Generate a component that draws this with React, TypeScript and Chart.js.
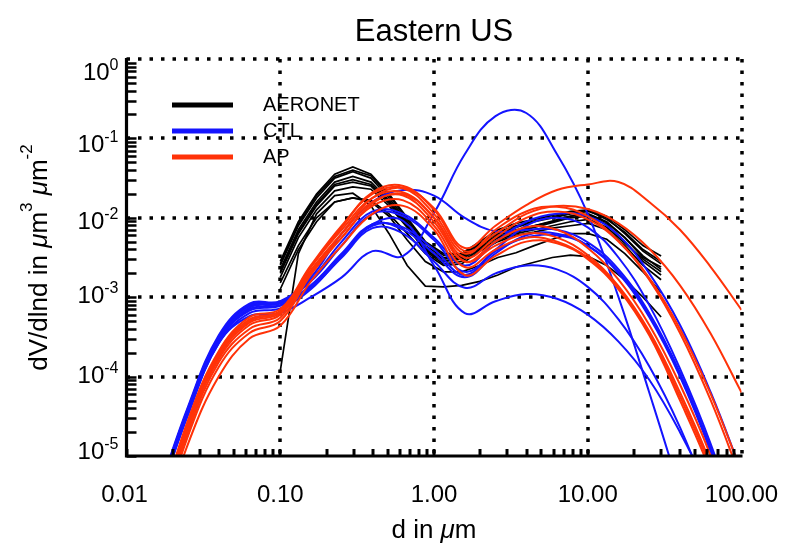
import React, { useEffect, useRef } from 'react';
import { Chart, registerables } from 'chart.js';

Chart.register(...registerables);

// ---------- text ----------
const titleText = 'Eastern US';
const legendLabels = ['AERONET', 'CTL', 'AP'];
const xTickValues = [0.01, 0.1, 1, 10, 100];
const xTickLabels = ['0.01', '0.10', '1.00', '10.00', '100.00'];
const yTickExponents = [0, -1, -2, -3, -4, -5];

// ---------- x values (diameter, µm) ----------
const aeronetD = [0.1, 0.1312, 0.1722, 0.2259, 0.2964, 0.3889, 0.5102, 0.6694, 0.8783, 1.1525, 1.5121, 1.984, 2.6031, 3.4155, 4.4814, 5.8799, 7.7149, 10.1225, 13.2815, 17.4263, 22.8646, 30.0];
const modelD = [0.0158, 0.0251, 0.0398, 0.0631, 0.1, 0.158, 0.251, 0.398, 0.631, 1, 1.585, 2.512, 3.981, 6.31, 10, 15.85, 25.12, 39.81, 63.1, 100];

// ---------- y values, given as log10(dV/dlnd) ----------
const aeronet1 = [-2.55, -2.05, -1.7, -1.45, -1.36, -1.45, -1.7, -2.0, -2.3, -2.45, -2.45, -2.3, -2.15, -2.07, -2.02, -1.97, -1.92, -1.9, -1.98, -2.15, -2.35, -2.48];
const aeronet2 = [-2.6, -2.1, -1.75, -1.5, -1.42, -1.5, -1.75, -2.05, -2.35, -2.5, -2.48, -2.32, -2.2, -2.12, -2.05, -2.0, -1.95, -1.92, -2.0, -2.2, -2.42, -2.58];
const aeronet3 = [-2.65, -2.15, -1.8, -1.55, -1.48, -1.55, -1.78, -2.07, -2.38, -2.52, -2.5, -2.35, -2.22, -2.15, -2.1, -2.05, -1.98, -1.95, -2.05, -2.25, -2.48, -2.65];
const aeronet4 = [-2.7, -2.2, -1.85, -1.6, -1.55, -1.6, -1.82, -2.1, -2.4, -2.55, -2.52, -2.38, -2.25, -2.18, -2.12, -2.06, -2.0, -1.98, -2.08, -2.3, -2.55, -2.72];
const aeronet5 = [-2.75, -2.25, -1.9, -1.66, -1.61, -1.64, -1.85, -2.12, -2.42, -2.58, -2.55, -2.4, -2.28, -2.2, -2.15, -2.1, -2.05, -2.02, -2.12, -2.32, -2.52, -2.68];
const aeronet6 = [-2.82, -2.35, -2.0, -1.8, -1.75, -1.78, -1.95, -2.2, -2.45, -2.6, -2.58, -2.42, -2.3, -2.22, -2.18, -2.13, -2.1, -2.07, -2.15, -2.35, -2.6, -2.78];
const aeronet7 = [-3.93, -2.45, -1.95, -1.72, -1.69, -1.85, -2.2, -2.6, -2.86, -2.87, -2.85, -2.8, -2.72, -2.62, -2.56, -2.5, -2.47, -2.49, -2.6, -2.78, -3.0, -3.25];
const aeronet8 = [-2.9, -2.4, -2.05, -1.8, -1.75, -1.8, -1.98, -2.28, -2.55, -2.68, -2.68, -2.6, -2.5, -2.44, -2.35, -2.27, -2.2, -2.2, -2.27, -2.45, -2.68, -2.94];
const aeronet9 = [-2.58, -2.08, -1.72, -1.48, -1.4, -1.47, -1.72, -2.02, -2.32, -2.47, -2.46, -2.33, -2.18, -2.1, -2.04, -1.99, -1.93, -1.91, -2.02, -2.18, -2.4, -2.55];
const aeronet10 = [-2.68, -2.18, -1.83, -1.58, -1.52, -1.58, -1.8, -2.08, -2.4, -2.55, -2.5, -2.37, -2.24, -2.17, -2.1, -2.04, -1.98, -1.96, -2.06, -2.25, -2.5, -2.62];

const ctl1 = [-5.6, -4.48, -3.58, -3.24, -3.2, -3.0, -2.75, -2.42, -2.48, -1.94, -1.2, -0.72, -0.68, -1.2, -1.95, -3.0, -4.2, -5.45, -6.8, -8.2];
const ctl2 = [-5.5, -4.38, -3.48, -3.08, -3.05, -2.75, -2.2, -1.8, -1.65, -1.72, -2.0, -2.17, -2.15, -2.15, -2.31, -2.65, -3.2, -3.95, -4.9, -6.0];
const ctl3 = [-5.52, -4.4, -3.5, -3.1, -3.06, -2.8, -2.35, -1.95, -1.98, -2.28, -2.68, -2.4, -2.1, -2.0, -2.12, -2.5, -3.1, -3.9, -4.85, -6.0];
const ctl4 = [-5.55, -4.43, -3.53, -3.13, -3.08, -2.85, -2.45, -2.08, -2.15, -2.45, -2.75, -2.45, -2.22, -2.2, -2.35, -2.7, -3.25, -4.0, -4.95, -6.1];
const ctl5 = [-5.57, -4.45, -3.55, -3.17, -3.11, -2.88, -2.5, -2.13, -2.2, -2.55, -2.88, -2.7, -2.6, -2.65, -2.87, -3.28, -3.87, -4.64, -5.6, -6.7];
const ctl6 = [-5.6, -4.48, -3.58, -3.2, -3.14, -2.9, -2.48, -2.08, -2.04, -2.6, -3.2, -3.05, -2.96, -3.02, -3.22, -3.56, -4.04, -4.7, -5.5, -6.5];
const ctl7 = [-5.53, -4.41, -3.51, -3.11, -3.07, -2.78, -2.3, -1.92, -1.95, -2.25, -2.6, -2.3, -2.05, -1.95, -1.98, -2.22, -2.7, -3.35, -4.2, -5.2];
const ctl8 = [-5.58, -4.46, -3.56, -3.15, -3.1, -2.86, -2.46, -2.1, -2.12, -2.4, -2.72, -2.42, -2.25, -2.22, -2.35, -2.68, -3.22, -3.98, -4.92, -6.0];

const ap1 = [-5.8, -4.55, -3.68, -3.25, -3.15, -2.6, -2.1, -1.7, -1.62, -1.88, -2.38, -2.1, -1.84, -1.65, -1.58, -1.55, -1.8, -2.15, -2.62, -3.16];
const ap2 = [-5.85, -4.6, -3.72, -3.3, -3.18, -2.62, -2.12, -1.68, -1.6, -1.9, -2.42, -2.2, -1.95, -1.85, -1.89, -2.07, -2.39, -2.85, -3.46, -4.2];
const ap3 = [-5.9, -4.65, -3.78, -3.35, -3.22, -2.68, -2.2, -1.75, -1.63, -1.95, -2.45, -2.15, -1.92, -1.86, -1.98, -2.29, -2.76, -3.4, -4.22, -5.2];
const ap4 = [-6.0, -4.75, -3.88, -3.45, -3.3, -2.72, -2.25, -1.82, -1.7, -2.0, -2.5, -2.25, -2.0, -1.92, -2.02, -2.3, -2.78, -3.45, -4.3, -5.3];
const ap5 = [-5.82, -4.58, -3.7, -3.28, -3.17, -2.62, -2.15, -1.75, -1.68, -2.0, -2.55, -2.35, -2.2, -2.25, -2.47, -2.86, -3.43, -4.2, -5.1, -6.2];
const ap6 = [-5.92, -4.7, -3.82, -3.4, -3.26, -2.7, -2.25, -1.85, -1.78, -2.1, -2.62, -2.4, -2.25, -2.3, -2.5, -2.88, -3.45, -4.25, -5.15, -6.3];
const ap7 = [-6.05, -4.85, -4.0, -3.52, -3.36, -2.8, -2.35, -1.95, -1.85, -2.15, -2.72, -2.48, -2.3, -2.32, -2.52, -2.9, -3.48, -4.3, -5.2, -6.3];
const ap8 = [-5.88, -4.62, -3.75, -3.32, -3.2, -2.66, -2.2, -1.8, -1.72, -2.05, -2.55, -2.3, -2.12, -2.15, -2.38, -2.78, -3.35, -4.1, -5.0, -6.1];

const aeronetSeries = [aeronet1, aeronet2, aeronet3, aeronet4, aeronet5, aeronet6, aeronet7, aeronet8, aeronet9, aeronet10];
const ctlSeries = [ctl1, ctl2, ctl3, ctl4, ctl5, ctl6, ctl7, ctl8];
const apSeries = [ap1, ap2, ap3, ap4, ap5, ap6, ap7, ap8];

// ---------- style ----------
const BLACK = '#000000';
const BLUE = 'rgb(20,20,255)';
const RED = 'rgb(255,50,8)';
const legendColors = [BLACK, BLUE, RED];
const FONT = '"Liberation Sans", Arial, Helvetica, sans-serif';

const toPoints = (xs: number[], logs: number[]) => xs.map((x, i) => ({ x, y: Math.pow(10, logs[i]) }));

type Run = { t: string; f: string; dy: number };

function runsWidth(ctx: CanvasRenderingContext2D, runs: Run[]) {
  let w = 0;
  for (const r of runs) {
    ctx.font = r.f;
    w += ctx.measureText(r.t).width;
  }
  return w;
}

function drawRuns(ctx: CanvasRenderingContext2D, runs: Run[], x: number, y: number) {
  let cx = x;
  for (const r of runs) {
    ctx.font = r.f;
    ctx.fillText(r.t, cx, y + r.dy);
    cx += ctx.measureText(r.t).width;
  }
}

const idlPlugin = {
  id: 'idlAxes',
  beforeDatasetsDraw(chart: any) {
    const { ctx, chartArea: a, scales } = chart;
    const xs = scales.x;
    const ys = scales.y;
    ctx.save();
    ctx.strokeStyle = '#000';
    ctx.lineWidth = 3.5;
    ctx.setLineDash([3.5, 8]);
    for (const v of xTickValues.slice(1)) {
      const px = Math.round(xs.getPixelForValue(v));
      ctx.beginPath();
      ctx.moveTo(px, a.top);
      ctx.lineTo(px, a.bottom);
      ctx.stroke();
    }
    for (const e of yTickExponents.slice(0, -1)) {
      const py = Math.round(ys.getPixelForValue(Math.pow(10, e)));
      ctx.beginPath();
      ctx.moveTo(a.left, py);
      ctx.lineTo(a.right, py);
      ctx.stroke();
    }
    ctx.restore();
  },
  afterDatasetsDraw(chart: any) {
    const { ctx, chartArea: a, scales } = chart;
    const xs = scales.x;
    const ys = scales.y;
    ctx.save();
    ctx.setLineDash([]);
    ctx.strokeStyle = '#000';
    ctx.fillStyle = '#000';

    // minor ticks (inside)
    ctx.lineWidth = 2.5;
    for (let e = -5; e < 0; e++) {
      for (let m = 1; m <= 9; m++) {
        const py = Math.round(ys.getPixelForValue(m * Math.pow(10, e))) + 0.5;
        ctx.beginPath();
        ctx.moveTo(a.left, py);
        ctx.lineTo(a.left + 10, py);
        ctx.stroke();
      }
    }
    ctx.lineWidth = 3;
    for (let e = -2; e < 2; e++) {
      for (let m = 1; m <= 9; m++) {
        const px = Math.round(xs.getPixelForValue(m * Math.pow(10, e)));
        ctx.beginPath();
        ctx.moveTo(px, a.bottom);
        ctx.lineTo(px, a.bottom - 7);
        ctx.stroke();
      }
    }

    // axis lines
    ctx.lineWidth = 3.2;
    ctx.beginPath();
    ctx.moveTo(a.left, a.top - 1);
    ctx.lineTo(a.left, a.bottom);
    ctx.lineTo(a.right + 1, a.bottom);
    ctx.stroke();

    // x tick labels
    ctx.textAlign = 'center';
    ctx.textBaseline = 'alphabetic';
    ctx.font = `24px ${FONT}`;
    xTickValues.forEach((v, i) => {
      const px = xs.getPixelForValue(v);
      ctx.fillText(xTickLabels[i], px - (i === 0 ? 2 : 0), 502);
    });

    // y tick labels: 10^e
    ctx.textAlign = 'left';
    const labelShift = [12, 4.5, 3, -2.5, -2.5, -6];
    yTickExponents.forEach((e, i) => {
      const py = ys.getPixelForValue(Math.pow(10, e));
      const base = py + labelShift[i] + 8.6;
      const runs: Run[] = [
        { t: '10', f: `24px ${FONT}`, dy: 0 },
        { t: e === 0 ? '0' : '-' + Math.abs(e), f: `16px ${FONT}`, dy: -10 },
      ];
      const w = runsWidth(ctx, runs);
      drawRuns(ctx, runs, 118.5 - w, base);
    });

    // x axis title
    const xRuns: Run[] = [
      { t: 'd in ', f: `26px ${FONT}`, dy: 0 },
      { t: 'μ', f: `italic 26px ${FONT}`, dy: 0 },
      { t: 'm', f: `26px ${FONT}`, dy: 0 },
    ];
    const cx = (a.left + a.right) / 2;
    drawRuns(ctx, xRuns, cx - runsWidth(ctx, xRuns) / 2, 538);

    // y axis title (rotated)
    const yRuns: Run[] = [
      { t: 'dV/dlnd in ', f: `26px ${FONT}`, dy: 0 },
      { t: 'μ', f: `italic 26px ${FONT}`, dy: 0 },
      { t: 'm', f: `26px ${FONT}`, dy: 0 },
      { t: '3', f: `17px ${FONT}`, dy: -15 },
      { t: ' ', f: `26px ${FONT}`, dy: 0 },
      { t: 'μ', f: `italic 26px ${FONT}`, dy: 0 },
      { t: 'm', f: `26px ${FONT}`, dy: 0 },
      { t: '-2', f: `17px ${FONT}`, dy: -15 },
    ];
    ctx.save();
    ctx.translate(47, (a.top + a.bottom) / 2);
    ctx.rotate(-Math.PI / 2);
    drawRuns(ctx, yRuns, -runsWidth(ctx, yRuns) / 2, 0);
    ctx.restore();

    // title
    ctx.textAlign = 'center';
    ctx.font = `31px ${FONT}`;
    ctx.fillText(titleText, cx, 41);

    // legend
    const legendY = [105, 131, 157];
    legendLabels.forEach((lab, i) => {
      ctx.strokeStyle = legendColors[i];
      ctx.lineWidth = 5;
      ctx.beginPath();
      ctx.moveTo(172, legendY[i]);
      ctx.lineTo(233, legendY[i]);
      ctx.stroke();
      ctx.fillStyle = '#000';
      ctx.textAlign = 'left';
      ctx.textBaseline = 'middle';
      ctx.font = `20px ${FONT}`;
      ctx.fillText(lab, 263, legendY[i]);
    });
    ctx.restore();
  },
};

export default function App() {
  const ref = useRef<HTMLCanvasElement>(null);
  useEffect(() => {
    if (!ref.current) return;
    const datasets: any[] = [];
    apSeries.forEach((s, i) =>
      datasets.push({ label: `AP ${i + 1}`, data: toPoints(modelD, s), borderColor: RED, borderWidth: 2 })
    );
    ctlSeries.forEach((s, i) =>
      datasets.push({ label: `CTL ${i + 1}`, data: toPoints(modelD, s), borderColor: BLUE, borderWidth: 2 })
    );
    aeronetSeries.forEach((s, i) =>
      datasets.push({ label: `AERONET ${i + 1}`, data: toPoints(aeronetD, s), borderColor: BLACK, borderWidth: 1.7, tension: 0 })
    );
    const chart = new Chart(ref.current, {
      type: 'line',
      data: { datasets },
      options: {
        animation: false,
        responsive: false,
        devicePixelRatio: 1,
        layout: { padding: { left: 126.5, right: 53.5, top: 59, bottom: 89 } },
        scales: {
          x: { type: 'logarithmic', min: 0.01, max: 100, display: false },
          y: { type: 'logarithmic', min: 1e-5, max: 1, display: false },
        },
        elements: {
          point: { radius: 0, hoverRadius: 0 },
          line: { tension: 0.4, capBezierPoints: false, fill: false },
        },
        plugins: { legend: { display: false }, tooltip: { enabled: false }, title: { display: false } },
        events: [],
      },
      plugins: [idlPlugin],
    } as any);
    return () => chart.destroy();
  }, []);
  return (
    <div style={{ position: 'absolute', left: 0, top: 0, width: 795, height: 545, background: '#fff' }}>
      <canvas ref={ref} width={795} height={545} style={{ display: 'block', width: 795, height: 545 }} />
    </div>
  );
}
